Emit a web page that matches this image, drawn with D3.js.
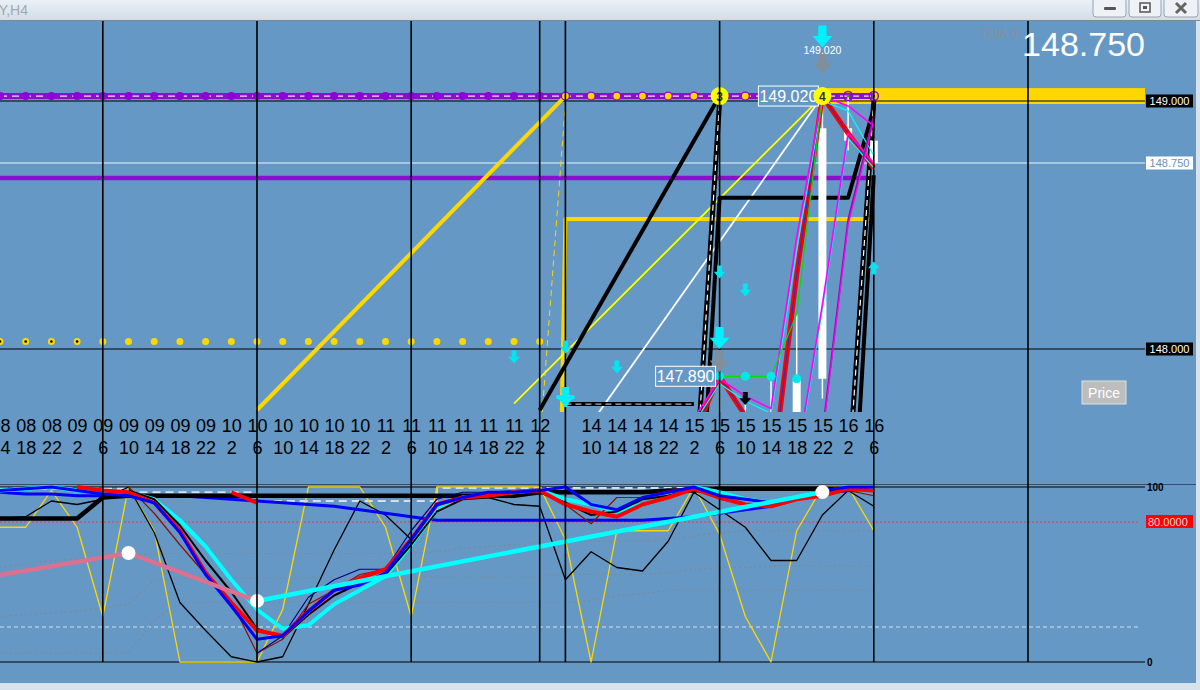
<!DOCTYPE html>
<html><head><meta charset="utf-8">
<script src="https://cdn.jsdelivr.net/npm/d3@7"></script>
<style>
html,body{margin:0;padding:0;background:#6598c4;overflow:hidden}
svg{display:block}
text{font-family:"Liberation Sans",Arial,sans-serif}
</style></head><body>
<svg id="c" width="1200" height="690"></svg>
<script>
// ---------------- DATA ----------------
const dayLabels  = ["08","08","08","09","09","09","09","09","09","10","10","10","10","10","10","11","11","11","11","11","11","12","","14","14","14","14","15","15","15","15","15","15","16","16"];
const hourLabels = ["14","18","22","2","6","10","14","18","22","2","6","10","14","18","22","2","6","10","14","18","22","2","","10","14","18","22","2","6","10","14","18","22","2","6"];
const separatorIdx = [4,10,16,21,22,28,34,40];

const priceTicks = [149.000, 148.750, 148.000];
const currentPrice = 148.750;
const levelTop = 149.02;      // dotted purple level
const levelMid = 148.69;      // purple level
const levelLow = 148.03;      // yellow dotted level
const bandHigh = 149.052, bandLow = 148.988;

// candles (H4)
const candleIdx   = [27,28,29,30,31,32,33,34];
const candleOpen  = [147.60,147.50,147.62,147.55,147.62,147.88,148.89,148.84];
const candleHigh  = [147.72,147.89,147.80,147.87,148.14,149.02,149.02,148.85];
const candleLow   = [147.35,147.40,147.45,147.40,147.55,147.80,148.80,148.72];
const candleClose = [147.50,147.60,147.55,147.60,147.88,148.89,148.84,148.75];

// main-window lines  (bar index, price)
const yellowThickIdx = [10,22],        yellowThickPx = [147.754,149.02];
const yellowThinIdx  = [20,32],        yellowThinPx  = [147.78,149.02];
const yellowDashIdx  = [21,22],        yellowDashPx  = [147.61,148.99];
const whiteThinIdx   = [23,32],        whiteThinPx   = [147.70,149.02];
const blackThickIdx  = [21,28],        blackThickPx  = [147.754,149.02];
const blackDash1Idx  = [27,28],        blackDash1Px  = [147.35,149.00];
const blackDash2Idx  = [33,34],        blackDash2Px  = [147.45,149.00];
const blackBoxIdx    = [27,28,33,34],  blackBoxPx    = [146.85,148.61,148.61,148.97];
const blackSolid2Idx = [33,34],        blackSolid2Px = [146.95,148.70];
const blackHorizIdx  = [22,27],        blackHorizPx  = [147.778,147.778];
const yellowRectIdx  = [21.8,22,34],   yellowRectPx  = [147.40,148.524,148.524];
const redMainIdx     = [26,27,28,29,30,31,32,33,34];
const redMainPx      = [147.30,147.66,147.89,147.73,147.45,148.30,149.02,148.87,148.73];
const magenta1Idx    = [26,27,28,29,30,31,32,33,34];
const magenta1Px     = [147.66,147.72,147.88,147.81,147.76,148.45,149.02,148.98,148.90];
const cyan1Px        = [147.64,147.70,147.86,147.79,147.74,148.40,149.00,148.96,148.78];
const magenta2Idx    = [31,32,33,34],  magenta2Px = [147.53,148.16,148.85,148.73];
const magenta3Idx    = [32,33,34],     magenta3Px = [147.66,148.52,148.94];
const greenIdx       = [28,29,30,31,32], greenPx = [147.89,147.89,147.89,148.14,149.02];
const cyanDotIdx     = [28,29,30,31],  cyanDotPx = [147.89,147.89,147.89,147.88];

// arrows
const arrowIdx   = [20,22,24,28,29,28,28,29,34,32,32,22];
const arrowPx    = [147.968,148.008,147.927,148.31,148.238,148.044,147.952,147.80,148.327,149.153,149.26,147.806];
const arrowKind  = ["cs","cs","cs","cs","cs","cb","gb","bk","cu","gb","cb","st"];
const arrowLabel = "149.020", arrowLabelPx = 149.205;

// sub-window oscillators (0..100), one value per bar
const yellowOsc = [77,77,98,77,26,100,75,0,0,0,0,30,100,100,100,77,26,100,100,100,100,100,70,0,75,75,75,100,73,26,0,75,100,100,75];
const blackThin = [82,83,92,90,93,100,74,34,18,3,0,3,33,64,92,84,70,90,94,94,90,89,47,63,54,52,69,97,87,77,58,58,84,98,89];
const blackThick= [82,82,82,82,94,95,95,95,95,95,95,95,95,95,95,95,95,95,95,95,95,97,97,97,97,97,98,98,99,99,99,99,99,99,99];
const blueSlow  = [97,96,96,95,95,95,95,95,94,93,92,91,90,89,87,85,83,81,81,81,81,81,81,81,81,81,82,83,85,87,89,93,96,98,99];
const redOsc    = [null,null,null,100,98,97,91,75,51,34,18,15,29,41,48,53,70,90,94,95,97,98,90,86,83,90,94,99,94,90,89,93,95,99,98];
const cyanOsc   = [98,99,100,98,97,97,93,81,66,47,30,19,21,33,41,49,67,87,94,95,97,98,93,90,86,90,94,100,97,93,91,93,97,100,100];
const blueFast  = [98,99,100,98,96,95,91,74,50,32,13,15,29,41,44,51,70,90,94,97,97,98,100,90,87,94,97,100,95,93,91,94,98,100,100];
const blackMed  = [null,null,null,null,null,98,93,78,58,40,19,14,27,38,45,50,67,86,93,94,95,97,91,84,86,93,95,99,95,93,91,94,97,99,98];
const darkRed   = [null,null,null,null,null,100,85,67,50,35,5,13,33,41,50,53,70,90,94,95,97,98,90,79,94,94,98,100,93,90,89,93,97,98,95];
const navyThin  = [null,null,null,null,null,null,null,null,null,null,5,15,37,47,53,53,75,93,97,97,98,99,null,null,null,null,null,null,null,null,null,null,null,null,null];
const redShort  = [null,null,null,null,null,null,null,null,null,97,91,null,null,null,null,null,null,null,null,null,null,null,null,null,null,null,null,null,null,null,null,null,null,null,null];
const lightDash = [99,99,99,99,99,97,97,97,97,97,92,92,92,92,92,92,92,99.5,99.5,99.5,99.5,99.5,99.5,99.5,99.5,99.5,99.5,99.5,99.5,99.5,99.5,99.5,99.5,99.5,99.5];
const grayDot1  = [54,56,58,59,61,61,62,62,62,62,62,62,62,62,62,62,62,63,65,66,67,68,69,69,69,69,70,72,74,75,75,75,75,75,75];
const grayDot2  = [26,27,28,29,31,33,47,48,48,48,48,48,48,48,48,48,48,49,49,49,49,49,50,50,50,50,51,53,54,54,55,55,55,55,55];
const grayDot3  = [5,5,5,5,5,5,24,34,34,34,34,34,34,34,34,34,34,34,34,34,34,34,34,35,38,39,41,41,41,41,41,41,41,41,41];
const zigIdx    = [0,5,10,32];
const zigVal    = [49.7,62.3,34.9,97.1];

// ---------------- DRAW ----------------
const W=1200,H=690,BG="#6598c4";
const svg=d3.select("#c");
svg.append("rect").attr("width",W).attr("height",H).attr("fill",BG);
const defs=svg.append("defs");
defs.append("clipPath").attr("id","mainClip").append("rect").attr("x",0).attr("y",21).attr("width",1145).attr("height",391);
defs.append("clipPath").attr("id","subClip").append("rect").attr("x",0).attr("y",484).attr("width",1145).attr("height",180);
const tg=defs.append("linearGradient").attr("id","tb").attr("x1",0).attr("y1",0).attr("x2",0).attr("y2",1);
tg.append("stop").attr("offset",0).attr("stop-color","#eaf0f6");
tg.append("stop").attr("offset",1).attr("stop-color","#d3dde8");

const x=d3.scaleLinear().domain([0,40]).range([0,1028]);
const yM=d3.scaleLinear().domain([148,149]).range([349,101]);
const yS=d3.scaleLinear().domain([0,100]).range([662,487]);
const XR=1145;

// ---- sub window ----
const sub=svg.append("g").attr("clip-path","url(#subClip)");
function sLine(arr,color,w,dash,curve){
  const gen=d3.line().defined(d=>d!=null).x((d,i)=>x(i)).y(d=>yS(d)).curve(curve||d3.curveLinear);
  const p=sub.append("path").datum(arr).attr("fill","none").attr("stroke",color).attr("stroke-width",w)
   .attr("stroke-linejoin","round").attr("d",gen);
  if(dash) p.attr("stroke-dasharray",dash);
  return p;
}
sub.append("line").attr("x1",0).attr("x2",XR).attr("y1",yS(100)).attr("y2",yS(100)).attr("stroke","#000").attr("stroke-width",1.2);
sub.append("line").attr("x1",0).attr("x2",XR).attr("y1",yS(0)).attr("y2",yS(0)).attr("stroke","#000").attr("stroke-width",1.2);
sub.append("line").attr("x1",0).attr("x2",XR-5).attr("y1",yS(80)).attr("y2",yS(80)).attr("stroke","#d4506e").attr("stroke-width",1.5).attr("stroke-dasharray","2,2");
sub.append("line").attr("x1",0).attr("x2",XR-5).attr("y1",yS(20)).attr("y2",yS(20)).attr("stroke","#b9c8d8").attr("stroke-width",1.5).attr("stroke-dasharray","4,3");
sLine(grayDot1,"#7d8a96",1.2,"2,3");
sLine(grayDot2,"#7d8a96",1.2,"2,3");
sLine(grayDot3,"#7d8a96",1.2,"2,3");
sLine(lightDash,"#d6e0ec",2,"8,5",d3.curveStepAfter);
sLine(yellowOsc,"#ffd700",1.3);
sLine(blackThin,"#000",1.3);
sLine(blueSlow,"#0000ff",3);
sLine(blackThick,"#000",4.5);
sLine(darkRed,"#8b1000",1.2);
sLine(navyThin,"#000080",1.2);
sLine(cyanOsc,"#00ffff",4);
sLine(blackMed,"#000",2);
sLine(redOsc,"#ff0000",4);
sLine(redShort,"#ff0000",4);
sLine(blueFast,"#0000ff",3);
const zz=zigIdx.map((d,i)=>[d,zigVal[i]]);
const lineZ=d3.line().x(d=>x(d[0])).y(d=>yS(d[1]));
sub.append("path").attr("d",lineZ(zz.slice(0,3))).attr("fill","none").attr("stroke","#dc7090").attr("stroke-width",4.5);
sub.append("path").attr("d",lineZ(zz.slice(2))).attr("fill","none").attr("stroke","#00ffff").attr("stroke-width",4.5);
sub.selectAll("circle.zz").data(zz.slice(1)).join("circle").attr("cx",d=>x(d[0])).attr("cy",d=>yS(d[1])).attr("r",7).attr("fill","#fff");

svg.append("line").attr("x1",0).attr("x2",W).attr("y1",484.5).attr("y2",484.5).attr("stroke","#34506e").attr("stroke-width",1);

svg.append("text").attr("x",1147).attr("y",yS(100)+4).attr("font-size",10).attr("font-weight","bold").attr("fill","#000").text("100");
svg.append("rect").attr("x",1146).attr("y",yS(80)-7).attr("width",47).attr("height",13).attr("fill","#ff0000");
svg.append("text").attr("x",1148).attr("y",yS(80)+4).attr("font-size",11).attr("fill","#ffd0d0").text("80.0000");
svg.append("text").attr("x",1147).attr("y",yS(0)+4).attr("font-size",10).attr("font-weight","bold").attr("fill","#000").text("0");

// ---- main window ----
const main=svg.append("g").attr("clip-path","url(#mainClip)");
const lineM=d3.line().x(d=>x(d[0])).y(d=>yM(d[1]));
const pts=(a,b)=>a.map((d,i)=>[d,b[i]]);
function mLine(p,color,w,dash){
  const e=main.append("path").attr("d",lineM(p)).attr("fill","none").attr("stroke",color).attr("stroke-width",w).attr("stroke-linejoin","round");
  if(dash) e.attr("stroke-dasharray",dash);
  return e;
}
main.append("rect").attr("x",x(32)).attr("y",yM(bandHigh)).attr("width",XR-x(32)).attr("height",yM(bandLow)-yM(bandHigh)).attr("fill","#ffd700");
main.append("line").attr("x1",0).attr("x2",XR).attr("y1",yM(149)).attr("y2",yM(149)).attr("stroke","#000").attr("stroke-width",1.2);
main.append("line").attr("x1",0).attr("x2",XR).attr("y1",yM(148)).attr("y2",yM(148)).attr("stroke","#000").attr("stroke-width",1.2);
main.append("line").attr("x1",0).attr("x2",XR).attr("y1",yM(currentPrice)).attr("y2",yM(currentPrice)).attr("stroke","#eef4fa").attr("stroke-width",1);

mLine([[0,levelMid],[34,levelMid]],"#8a10cc",4.5);
mLine([[0,levelTop],[34,levelTop]],"#8a10cc",6);
mLine([[0,levelTop],[34,levelTop]],"#f4d8f4",1.2,"7,5");
const ld=d3.range(0,22);
main.selectAll("circle.yl").data(ld).join("circle").attr("cx",d=>x(d)).attr("cy",yM(levelLow)).attr("r",3.5).attr("fill","#ffd700");
main.selectAll("circle.ylc").data(ld.filter(d=>d<4)).join("circle").attr("cx",d=>x(d)).attr("cy",yM(levelLow)).attr("r",1.3).attr("fill","#000");

svg.selectAll("line.sep").data(separatorIdx).join("line").attr("x1",d=>x(d)).attr("x2",d=>x(d)).attr("y1",21).attr("y2",662).attr("stroke","#000").attr("stroke-width",1.6);

mLine(pts(yellowThickIdx,yellowThickPx),"#ffd700",4);
mLine(pts(yellowRectIdx,yellowRectPx),"#ffd700",4);
mLine(pts(yellowDashIdx,yellowDashPx),"#ffd700",1,"6,4");
mLine(pts(yellowThinIdx,yellowThinPx),"#ffff00",1.8);
mLine(pts(whiteThinIdx,whiteThinPx),"#ffffff",1.8);
mLine(pts(blackThickIdx,blackThickPx),"#000",4);
mLine(pts(blackHorizIdx,blackHorizPx),"#000",4);
mLine(pts(blackHorizIdx,blackHorizPx),"#b0b8c0",1.2,"6,4");
mLine(pts(blackBoxIdx,blackBoxPx),"#000",4);
mLine(pts(blackSolid2Idx,blackSolid2Px),"#000",4);
mLine(pts(blackDash1Idx,blackDash1Px),"#000",5);
mLine(pts(blackDash1Idx,blackDash1Px),"#ffffff",1.2,"6,4");
mLine(pts(blackDash2Idx,blackDash2Px),"#000",5);
mLine(pts(blackDash2Idx,blackDash2Px),"#ffffff",1.2,"6,4");

const cand=candleIdx.map((d,i)=>({i:d,o:candleOpen[i],h:candleHigh[i],l:candleLow[i],c:candleClose[i]}));
main.selectAll("line.wick").data(cand).join("line").attr("x1",d=>x(d.i)).attr("x2",d=>x(d.i)).attr("y1",d=>yM(d.h)).attr("y2",d=>yM(d.l)).attr("stroke","#fff").attr("stroke-width",1.5);
main.selectAll("rect.body").data(cand).join("rect").attr("x",d=>x(d.i)-4).attr("width",8)
  .attr("y",d=>yM(Math.max(d.o,d.c))).attr("height",d=>Math.max(1,Math.abs(yM(d.o)-yM(d.c)))).attr("fill","#fff");

mLine(pts(redMainIdx,redMainPx),"#ff0000",5);
mLine(pts(redMainIdx,redMainPx),"#2030d0",1);
mLine(pts(magenta1Idx,cyan1Px),"#00ffff",1.2);
mLine(pts(magenta1Idx,magenta1Px),"#ff00ff",1.6);
mLine(pts(magenta2Idx,magenta2Px),"#00ffff",1.2);
mLine(pts(magenta2Idx,magenta2Px.map(v=>v+0.02)),"#ff00ff",1.6);
mLine(pts(magenta3Idx,magenta3Px),"#9010a0",1.8);
mLine(pts(magenta3Idx,magenta3Px.map(v=>v-0.02)),"#ff00ff",1.2);
mLine(pts(greenIdx,greenPx),"#00e000",1.2);
main.selectAll("circle.cd").data(pts(cyanDotIdx,cyanDotPx)).join("circle").attr("cx",d=>x(d[0])).attr("cy",d=>yM(d[1])).attr("r",4.5).attr("fill","#00e8e8");

const dotIdx=d3.range(0,35);
main.selectAll("circle.pd").data(dotIdx.filter(d=>d<22)).join("circle").attr("cx",d=>x(d)).attr("cy",yM(levelTop)).attr("r",4).attr("fill","#9000d8");
main.selectAll("circle.yd").data(dotIdx.filter(d=>d>=22&&d<32&&d!==28)).join("circle").attr("cx",d=>x(d)).attr("cy",yM(levelTop)).attr("r",4).attr("fill","#ffd700").attr("stroke","#9000d8").attr("stroke-width",1.2);
main.selectAll("circle.rd").data([33,34]).join("circle").attr("cx",d=>x(d)).attr("cy",yM(levelTop)).attr("r",4.5).attr("fill","none").attr("stroke","#9000d8").attr("stroke-width",1.5);
main.selectAll("circle.rdc").data([33,34]).join("circle").attr("cx",d=>x(d)).attr("cy",yM(levelTop)).attr("r",1.5).attr("fill","#40a000");
main.selectAll("circle.big").data([28]).join("circle").attr("cx",d=>x(d)).attr("cy",yM(levelTop)).attr("r",9).attr("fill","#ffff00");
main.append("text").attr("x",x(28)).attr("y",yM(levelTop)+4.5).attr("text-anchor","middle").attr("font-size",12).attr("font-weight","bold").attr("fill","#333").text("3");

// arrows
function arrowPath(s){
  const w=s*0.9, sh=w*0.42;
  return `M${-sh/2},${-s/2}L${sh/2},${-s/2}L${sh/2},${-s*0.02}L${w/2},${-s*0.02}L0,${s/2}L${-w/2},${-s*0.02}L${-sh/2},${-s*0.02}Z`;
}
const kindStyle={cs:[13,"#00e6f0"],cb:[22,"#00f0ff"],gb:[22,"#7f8f9c"],bk:[13,"#000"],cu:[13,"#00e6f0"],st:[20,"#00f0ff"]};
const ar=arrowIdx.map((d,i)=>({i:d,p:arrowPx[i],k:arrowKind[i]}));
const ag=svg.append("g");
ar.forEach(a=>{
  const [s,c]=kindStyle[a.k];
  const g=ag.append("g").attr("transform",`translate(${x(a.i)},${yM(a.p)})${a.k==="cu"?" rotate(180)":""}`);
  g.append("path").attr("d",arrowPath(s)).attr("fill",c);
  if(a.k==="st"){ g.append("rect").attr("x",-9).attr("y",-2).attr("width",18).attr("height",4).attr("fill",c);
    g.append("rect").attr("x",-2).attr("y",-10).attr("width",4).attr("height",20).attr("fill",c); }
});
svg.append("text").attr("x",x(32)).attr("y",yM(arrowLabelPx)+4).attr("text-anchor","middle").attr("font-size",10.5).attr("fill","#fff").text(arrowLabel);

function vbox(i,price,txt){
  const bw=60,bh=20,xr=x(i)-4;
  svg.append("rect").attr("x",xr-bw).attr("y",yM(price)-bh/2).attr("width",bw).attr("height",bh).attr("fill",BG).attr("stroke","#fff").attr("stroke-width",1);
  svg.append("text").attr("x",xr-bw/2).attr("y",yM(price)+6).attr("text-anchor","middle").attr("font-size",16).attr("fill","#fff").text(txt);
}
vbox(32,levelTop,"149.020");
vbox(28,147.89,"147.890");
svg.append("circle").attr("cx",x(32)).attr("cy",yM(levelTop)).attr("r",9).attr("fill","#ffff00");
svg.append("text").attr("x",x(32)).attr("y",yM(levelTop)+4.5).attr("text-anchor","middle").attr("font-size",12).attr("font-weight","bold").attr("fill","#333").text("4");

const tagStyle=[["#000","#fff"],["#fff","#6a90b8"],["#000","#fff"]];
priceTicks.forEach((p,i)=>{
  svg.append("rect").attr("x",1146).attr("y",yM(p)-6.5).attr("width",47).attr("height",13).attr("fill",tagStyle[i][0]);
  svg.append("text").attr("x",1169.5).attr("y",yM(p)+4).attr("text-anchor","middle").attr("font-size",11).attr("fill",tagStyle[i][1]).text(d3.format(".3f")(p));
});

const idxAll=d3.range(0,35);
const axD=svg.append("g").attr("transform","translate(0,416)").call(d3.axisBottom(x).tickValues(idxAll).tickFormat(i=>dayLabels[i]).tickSize(0));
const axH=svg.append("g").attr("transform","translate(0,438)").call(d3.axisBottom(x).tickValues(idxAll).tickFormat(i=>hourLabels[i]).tickSize(0));
[axD,axH].forEach(a=>{a.select(".domain").remove();a.selectAll("text").attr("font-size",18).attr("fill","#000").attr("font-family","'Liberation Sans',Arial,sans-serif");});

svg.append("text").attr("x",982).attr("y",38).attr("font-size",12).attr("fill","#8a8f96").text("DJIA 0");
svg.append("text").attr("x",1145).attr("y",56).attr("text-anchor","end").attr("font-size",34).attr("fill","#fff").text(d3.format(".3f")(currentPrice));

svg.append("rect").attr("x",1082).attr("y",381).attr("width",44).attr("height",23).attr("fill","#bdbdbd").attr("stroke","#e0e0e0");
svg.append("text").attr("x",1104).attr("y",397.5).attr("text-anchor","middle").attr("font-size",14).attr("fill","#fff").text("Price");

// window chrome
svg.append("rect").attr("x",0).attr("y",0).attr("width",W).attr("height",20).attr("fill","url(#tb)");
svg.append("line").attr("x1",0).attr("x2",W).attr("y1",20.5).attr("y2",20.5).attr("stroke","#808890");
svg.append("text").attr("x",28).attr("y",15).attr("text-anchor","end").attr("font-size",14).attr("fill","#a0a8b0").text("USDJPY,H4");
const btn=[[1093,33],[1129,32],[1164,34]];
btn.forEach(([bx,bw])=>{svg.append("rect").attr("x",bx).attr("y",-3).attr("width",bw).attr("height",20).attr("rx",3).attr("fill","#eef2f7").attr("stroke","#95a3b4");});
svg.append("rect").attr("x",1104).attr("y",7).attr("width",12).attr("height",3).attr("fill","#555").attr("rx",1);
svg.append("rect").attr("x",1140).attr("y",3).attr("width",10).attr("height",9).attr("fill","none").attr("stroke","#555").attr("stroke-width",1.5);
svg.append("rect").attr("x",1143).attr("y",6).attr("width",4).attr("height",3).attr("fill","#555");
svg.append("path").attr("d","M1176,3L1186,13M1186,3L1176,13").attr("stroke","#666").attr("stroke-width",3);
svg.append("rect").attr("x",0).attr("y",683).attr("width",W).attr("height",7).attr("fill","#d8e2ec");
svg.append("rect").attr("x",1196).attr("y",21).attr("width",4).attr("height",662).attr("fill","#d8e2ec");
</script>
</body></html>
